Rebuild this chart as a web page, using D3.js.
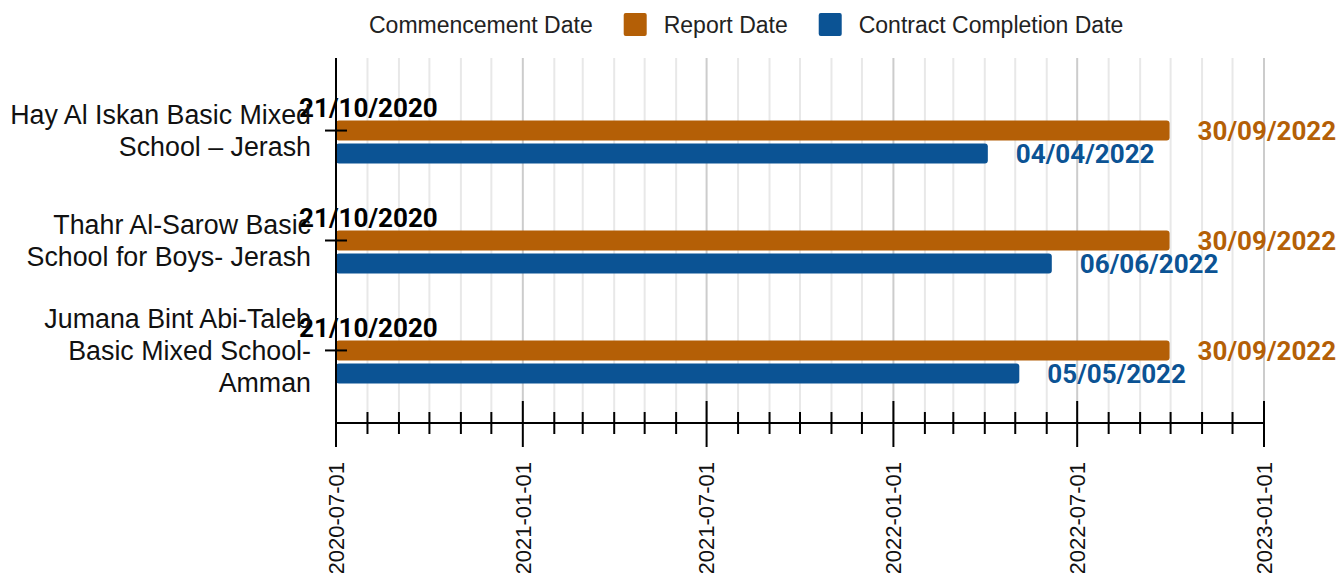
<!DOCTYPE html>
<html>
<head>
<meta charset="utf-8">
<script src="https://cdn.jsdelivr.net/npm/d3@7"></script>
<style>
    body { margin: 0; background: #fff; }
    .axis path, .axis line { stroke: #000; stroke-width: 2; }
    .legend text { font-family: "Liberation Sans", Arial, sans-serif; font-size: 23px; fill: #222; }
    .cat-label { font-family: "Liberation Sans", Arial, sans-serif; font-size: 26.8px; fill: #111; }
    .tick-label { font-family: "Liberation Sans", Arial, sans-serif; font-size: 22px; fill: #111; }
    .value-label { font-family: Roboto, "Noto Sans", sans-serif; font-size: 26px; font-weight: bold; }
</style>
</head>
<body>
<div id="chart"></div>
<script>

// chart data
let categories = [
    "Hay Al Iskan Basic Mixed School – Jerash",
    "Thahr Al-Sarow Basic School for Boys- Jerash",
    "Jumana Bint Abi-Taleb Basic Mixed School- Amman"
];
let categoryLines = [
    ["Hay Al Iskan Basic Mixed", "School – Jerash"],
    ["Thahr Al-Sarow Basic", "School for Boys- Jerash"],
    ["Jumana Bint Abi-Taleb", "Basic Mixed School-", "Amman"]
];
let seriesNames = ["Commencement Date", "Report Date", "Contract Completion Date"];
let seriesColors = ["none", "#b45f06", "#0b5394"];
let labelColors = ["#000", "#b45f06", "#0b5394"];
let commencementDates = ["21/10/2020", "21/10/2020", "21/10/2020"];
let reportDates = ["30/09/2022", "30/09/2022", "30/09/2022"];
let completionDates = ["04/04/2022", "06/06/2022", "05/05/2022"];
let axisStart = "2020-07-01";
let axisEnd = "2023-01-01";

let parseDMY = d3.timeParse("%d/%m/%Y");
let parseISO = d3.timeParse("%Y-%m-%d");

let series = [commencementDates, reportDates, completionDates];

let rows = [];
categories.forEach(function(cat, i) {
    series.forEach(function(s, j) {
        rows.push({ category: cat, series: seriesNames[j], index: j, text: s[i], date: parseDMY(s[i]) });
    });
});

let margin = { top: 58, right: 79, bottom: 150, left: 336 };
let totalWidth = 1343, totalHeight = 573;
let width = totalWidth - margin.left - margin.right;
let height = totalHeight - margin.top - margin.bottom;

let svg = d3.select("#chart").append("svg")
    .attr("width", totalWidth)
    .attr("height", totalHeight);

let g = svg.append("g")
    .attr("transform", "translate(" + margin.left + "," + margin.top + ")");

let x = d3.scaleTime()
    .domain([parseISO(axisStart), parseISO(axisEnd)])
    .range([0, width]);

let y = d3.scalePoint()
    .domain(categories)
    .range([0, height])
    .padding(0.66);

let ySub = d3.scaleBand()
    .domain(seriesNames)
    .range([-33, 33])
    .paddingInner(0.13);

// gridlines
let months = x.ticks(d3.timeMonth.every(1));
g.append("g").selectAll("line")
    .data(months)
    .enter().append("line")
    .attr("x1", d => x(d))
    .attr("x2", d => x(d))
    .attr("y1", 0)
    .attr("y2", height)
    .attr("stroke", d => d.getMonth() % 6 === 0 ? "#cccccc" : "#e8e8e8")
    .attr("stroke-width", 2);

// bars
g.append("g").selectAll("rect")
    .data(rows.filter(d => d.index > 0))
    .enter().append("rect")
    .attr("x", x(parseISO(axisStart)))
    .attr("y", d => y(d.category) + ySub(d.series))
    .attr("width", d => x(d.date) - x(parseISO(axisStart)))
    .attr("height", ySub.bandwidth())
    .attr("rx", 3)
    .attr("fill", d => seriesColors[d.index]);

// value labels
g.append("g").selectAll("text")
    .data(rows)
    .enter().append("text")
    .attr("class", "value-label")
    .attr("x", d => d.index === 0 ? x(d.date) - 12 : x(d.date) + 28)
    .attr("y", d => y(d.category) + ySub(d.series) + ySub.bandwidth() / 2)
    .attr("dy", "0.35em")
    .attr("text-anchor", d => d.index === 0 ? "end" : "start")
    .attr("fill", d => labelColors[d.index])
    .text(d => d.text);

// x axis: monthly minor ticks, half-year major ticks
let xAxisG = g.append("g")
    .attr("class", "axis")
    .attr("transform", "translate(0," + height + ")");

xAxisG.append("line")
    .attr("x1", 0).attr("x2", width);

xAxisG.selectAll(".minor")
    .data(months)
    .enter().append("line")
    .attr("x1", d => x(d)).attr("x2", d => x(d))
    .attr("y1", d => d.getMonth() % 6 === 0 ? -22 : -11)
    .attr("y2", d => d.getMonth() % 6 === 0 ? 24 : 11);

let majors = months.filter(d => d.getMonth() % 6 === 0);
xAxisG.selectAll(".tick-label")
    .data(majors)
    .enter().append("text")
    .attr("class", "tick-label")
    .attr("transform", d => "translate(" + x(d) + ",39) rotate(-90)")
    .attr("dy", "0.35em")
    .attr("text-anchor", "end")
    .text(d3.timeFormat("%Y-%m-%d"));

// y axis
let yAxisG = g.append("g").attr("class", "axis");
yAxisG.append("line")
    .attr("x1", 0).attr("x2", 0)
    .attr("y1", 0).attr("y2", height);

yAxisG.selectAll(".ytick")
    .data(categories)
    .enter().append("line")
    .attr("x1", -11).attr("x2", 11)
    .attr("y1", d => y(d)).attr("y2", d => y(d));

categories.forEach(function(cat, i) {
    let lines = categoryLines[i];
    let t = g.append("text")
        .attr("class", "cat-label")
        .attr("text-anchor", "end");
    lines.forEach(function(line, k) {
        t.append("tspan")
            .attr("x", -25)
            .attr("y", y(cat) + (k - (lines.length - 1) / 2) * 32)
            .attr("dy", "0.35em")
            .text(line);
    });
});

// legend
let legend = svg.append("g").attr("class", "legend");
let lx = 329;
seriesNames.forEach(function(name, i) {
    if (seriesColors[i] !== "none") {
        legend.append("rect")
            .attr("x", lx).attr("y", 13)
            .attr("width", 23).attr("height", 23)
            .attr("rx", 2)
            .attr("fill", seriesColors[i]);
    }
    let t = legend.append("text")
        .attr("x", lx + 40)
        .attr("y", 25)
        .attr("dy", "0.35em")
        .text(name);
    lx += 40 + t.node().getComputedTextLength() + 31;
});

</script>
</body>
</html>
